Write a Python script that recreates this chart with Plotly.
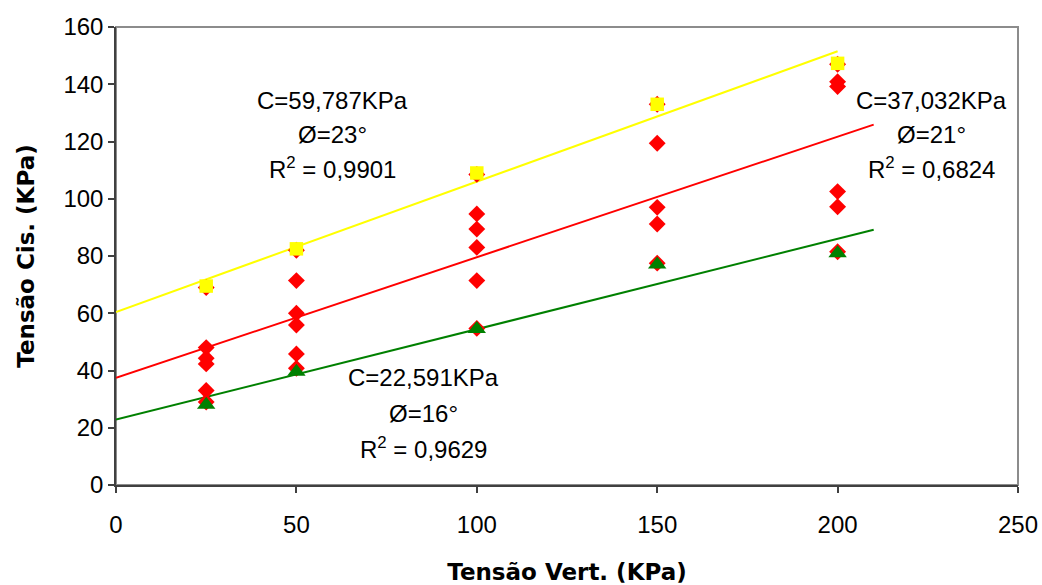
import numpy as np
import plotly.graph_objects as go

# ---- data ----
x_all = [25, 25, 25, 25, 25, 25,
         50, 50, 50, 50, 50, 50,
         100, 100, 100, 100, 100, 100,
         150, 150, 150, 150, 150,
         200, 200, 200, 200, 200, 200]
y_all = [69, 48, 44.3, 42.3, 33, 29,
         82, 71.4, 60, 55.9, 45.8, 40.8,
         108.5, 94.7, 89.4, 83, 71.4, 54.7,
         133, 119.4, 97, 91.2, 77.5,
         147, 140.9, 139.2, 102.5, 97.2, 81.5]
x_env = [25, 50, 100, 150, 200]
y_max = [69.5, 82.5, 109, 133, 147.3]
y_min = [28, 39.6, 54.5, 77, 81]

lbl_max = ["C=59,787KPa", "Ø=23°", "R<sup>2</sup> = 0,9901"]
lbl_all = ["C=37,032KPa", "Ø=21°", "R<sup>2</sup> = 0,6824"]
lbl_min = ["C=22,591KPa", "Ø=16°", "R<sup>2</sup> = 0,9629"]

YELLOW = "#FFFF00"
RED = "#FF0000"
GREEN = "#008000"


def trend(xs, ys, x_end):
    b, a = np.polyfit(xs, ys, 1)
    xx = np.array([0.0, x_end])
    return xx, a + b * xx


fig = go.Figure()

for xs, ys, col, xe in [(x_env, y_max, YELLOW, 200),
                        (x_all, y_all, RED, 210),
                        (x_env, y_min, GREEN, 210)]:
    tx, ty = trend(xs, ys, xe)
    fig.add_trace(go.Scatter(x=tx, y=ty, mode="lines",
                             line=dict(color=col, width=2),
                             showlegend=False, hoverinfo="skip"))

fig.add_trace(go.Scatter(x=x_all, y=y_all, mode="markers",
                         marker=dict(symbol="diamond", size=13, color=RED,
                                     line=dict(width=0)),
                         showlegend=False))
fig.add_trace(go.Scatter(x=x_env, y=y_max, mode="markers",
                         marker=dict(symbol="square", size=13.5, color=YELLOW,
                                     line=dict(width=0)),
                         showlegend=False))
fig.add_trace(go.Scatter(x=x_env, y=y_min, mode="markers",
                         marker=dict(symbol="triangle-up", size=16, color=GREEN,
                                     line=dict(width=0)),
                         showlegend=False))

ann_font = dict(family="Liberation Sans, Arial, sans-serif", size=24, color="#000000")
blocks = [(lbl_max, 60.1, [134.3, 122.6, 110.6]),
          (lbl_all, 226.0, [134.3, 122.6, 110.6]),
          (lbl_min, 85.1, [37.6, 25.0, 12.8])]
for labels, xc, ys in blocks:
    for t, yc in zip(labels, ys):
        fig.add_annotation(x=xc, y=yc, xref="x", yref="y", text=t,
                           showarrow=False, font=ann_font,
                           xanchor="center", yanchor="middle")

# gray frame (top/right)
fig.add_shape(type="rect", xref="paper", yref="paper", x0=0, y0=0, x1=1, y1=1,
              line=dict(color="#8C8C8C", width=2), layer="below")

tick_font = dict(family="Liberation Sans, Arial, sans-serif", size=24, color="#000000")
title_font = dict(family="DejaVu Sans, sans-serif", size=23, color="#000000",
                  weight="bold")

fig.update_layout(
    width=1042, height=585,
    margin=dict(l=116, r=24, t=27, b=100),
    paper_bgcolor="white", plot_bgcolor="white",
    xaxis=dict(range=[0, 250], dtick=50, tick0=0, showgrid=False, zeroline=False,
               showline=True, linecolor="#404040", linewidth=1.5,
               ticks="outside", ticklen=6, tickwidth=1.5, tickcolor="#404040",
               tickfont=tick_font, ticklabelstandoff=11, automargin=False,
               title=dict(text="Tensão Vert. (KPa)", font=title_font, standoff=31)),
    yaxis=dict(range=[0, 160], dtick=20, tick0=0, showgrid=False, zeroline=False,
               showline=True, linecolor="#404040", linewidth=1.5,
               ticks="outside", ticklen=6, tickwidth=1.5, tickcolor="#404040",
               tickfont=tick_font, automargin=False,
               title=dict(text="Tensão Cis. (KPa)", font=title_font, standoff=22)),
)

fig.write_html("out.html")
